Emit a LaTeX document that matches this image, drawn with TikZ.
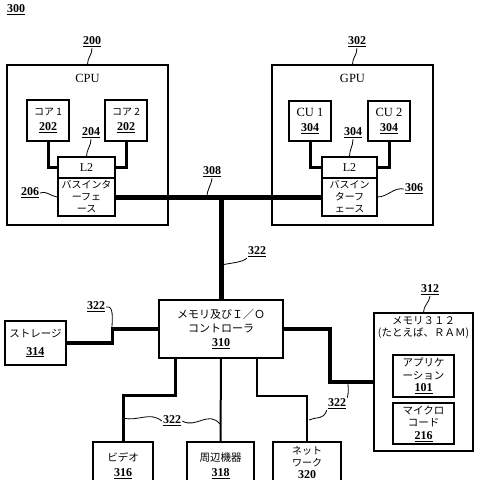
\documentclass[tikz,border=0pt]{standalone}
\usepackage{fontspec}
\setmainfont{Liberation Serif}
\newfontfamily\jp{Noto Sans CJK JP}
\usetikzlibrary{scopes}

\newcommand{\nb}[1]{{\rmfamily\bfseries\fontsize{12}{12}\selectfont\underline{#1}}}

\tikzset{
  box/.style={draw, line width=1.2pt, inner sep=0pt, align=center,
    font=\jp\fontsize{10}{13}\selectfont},
  lat/.style={font=\rmfamily\fontsize{12.5}{14}\selectfont, inner sep=0pt},
  num/.style={inner sep=1pt},
  lead/.style={line width=0.8pt},
}

\begin{document}
\begin{tikzpicture}[x=1pt,y=-1pt]

\useasboundingbox (0,0) rectangle (480,480);
\clip (0,0) rectangle (480,480);

\node[num] (n300) at (16,10) {\nb{300}};

%draw CPU
\node[box, minimum width=161pt, minimum height=160pt] (cpu) at (87.5,145) {};
\node[lat] (cputxt) at (87.5,78) {CPU};
\node[box, minimum width=42pt, minimum height=41pt, font=\jp\fontsize{10}{15}\selectfont] (core1) at (48,120.5) {コア 1\\\nb{202}};
\node[box, minimum width=42pt, minimum height=41pt, font=\jp\fontsize{10}{15}\selectfont] (core2) at (126,120.5) {コア 2\\\nb{202}};
\node[box, minimum width=57pt, minimum height=21pt, font=\rmfamily\fontsize{12}{13}\selectfont] (l2a) at (86.5,167.5) {L2};
\node[box, minimum width=57pt, minimum height=38pt, font=\jp\fontsize{10}{12}\selectfont] (bia) at (86.5,197) {バスインタ\\ーフェ\\ース};

%draw GPU
\node[box, minimum width=161pt, minimum height=160pt] (gpu) at (352.5,145) {};
\node[lat] (gputxt) at (352.5,78) {GPU};
\node[box, minimum width=42pt, minimum height=40pt, font=\rmfamily\fontsize{12.5}{15}\selectfont] (cu1) at (310,121) {CU 1\\\nb{304}};
\node[box, minimum width=42pt, minimum height=40pt, font=\rmfamily\fontsize{12.5}{15}\selectfont] (cu2) at (389,121) {CU 2\\\nb{304}};
\node[box, minimum width=55pt, minimum height=21pt, font=\rmfamily\fontsize{12}{13}\selectfont] (l2b) at (349.5,167.5) {L2};
\node[box, minimum width=55pt, minimum height=38pt, font=\jp\fontsize{10}{12}\selectfont] (bib) at (349.5,197) {バスイン\\ターフ\\ェース};

%draw controller, memory and devices
\node[box, minimum width=124pt, minimum height=58pt, font=\jp\fontsize{11}{14}\selectfont] (ctrl) at (221,329) {メモリ及びＩ／Ｏ\\コントローラ\\\nb{310}};
\node[box, minimum width=61pt, minimum height=44pt, font=\jp\fontsize{10.5}{18}\selectfont] (stor) at (35.5,343) {ストレージ\\\nb{314}};
\node[box, minimum width=99pt, minimum height=138pt] (mem) at (423.5,382) {};
\node[inner sep=0pt, align=center, font=\jp\fontsize{10.5}{12}\selectfont] (memtxt) at (423.5,328) {メモリ３１２\\(たとえば、ＲＡＭ)};
\node[box, minimum width=61pt, minimum height=42pt, font=\jp\fontsize{10.5}{12.5}\selectfont] (app) at (423.5,376) {アプリケ\\ーション\\\nb{101}};
\node[box, minimum width=61pt, minimum height=41pt, font=\jp\fontsize{10.5}{12.5}\selectfont] (micro) at (423.5,423.5) {マイクロ\\コード\\\nb{216}};
\node[box, minimum width=60pt, minimum height=48pt, font=\jp\fontsize{10.5}{15}\selectfont] (video) at (123,466) {ビデオ\\\nb{316}};
\node[box, minimum width=67pt, minimum height=48pt, font=\jp\fontsize{10.5}{15}\selectfont] (peri) at (220.5,466) {周辺機器\\\nb{318}};
\node[box, minimum width=68pt, minimum height=48pt] (net) at (307,466) {};
\node[inner sep=0pt, align=center, font=\jp\fontsize{10}{12}\selectfont] (nettxt) at (307,463.5) {ネット\\ワーク\\\nb{320}};

%draw links
{[line width=3pt]
  \draw (core1.south) |- (l2a.west);
  \draw (core2.south) |- (l2a.east);
  \draw (cu1.south) |- (l2b.west);
  \draw (cu2.south) |- (l2b.east);
}
{[line width=5pt]
  \draw (bia.east) -- (bib.west);
  \draw (ctrl.north) -- (ctrl.north |- bia.east);
}
\draw[line width=3.5pt] (stor.east) -- ++(46,0) |- (ctrl.west);
\draw[line width=4pt] (ctrl.east) -- ++(46,0) |- (mem.west);
\draw[line width=3pt] ([xshift=-46pt]ctrl.south) -- ++(0,37) -| (video.north);
{[line width=2pt]
  \draw (ctrl.south) -- (peri.north);
  \draw ([xshift=36pt]ctrl.south) -- ++(0,37) -| (net.north);
}

%reference numbers
\node[num] (n200) at (92,42) {\nb{200}};
\node[num] (n302) at (357,42) {\nb{302}};
\node[num] (n204) at (91,133) {\nb{204}};
\node[num] (n304) at (353,133) {\nb{304}};
\node[num] (n206) at (30,193) {\nb{206}};
\node[num] (n306) at (414,189) {\nb{306}};
\node[num] (n308) at (212,172) {\nb{308}};
\node[num] (n312) at (430,290) {\nb{312}};
\node[num] (n322a) at (257,252) {\nb{322}};
\node[num] (n322b) at (96,307) {\nb{322}};
\node[num] (n322c) at (172,421) {\nb{322}};
\node[num] (n322d) at (337,404) {\nb{322}};

\coordinate (b308) at (207,197);
\coordinate (b322a) at (221,265);
\coordinate (b322b) at (112,329);
\coordinate (b322c) at (123,418);
\coordinate (b322e) at (220,424);
\coordinate (b322d) at (348,382);
\coordinate (b322f) at (309,420);

{[lead]
  \draw (n200.south) .. controls +(0,7) and +(0,-7) .. (cpu.north);
  \draw (n302.south) .. controls +(0,7) and +(0,-7) .. (gpu.north);
  \draw (n204.south) .. controls +(0,7) and +(0,-7) .. (l2a.north);
  \draw (n304.south) .. controls +(0,7) and +(0,-7) .. (l2b.north);
  \draw (n206.east) .. controls +(8,-2) and +(-10,-2) .. (bia.west);
  \draw (n306.west) .. controls +(-10,-2) and +(10,0) .. (bib.east);
  \draw (n308.south) .. controls +(-1,8) and +(0,-8) .. (b308);
  \draw (n322a.south west) .. controls +(-4,4) and +(10,-2) .. (b322a);
  \draw (n322b.east) .. controls +(8,-2) and +(0,-10) .. (b322b);
  \draw (n322c.west) .. controls +(-12,-10) and +(14,4) .. (b322c);
  \draw (n322c.east) .. controls +(14,8) and +(-12,-14) .. (b322e);
  \draw (n322d.north east) .. controls +(2,-8) and +(0,8) .. (b322d);
  \draw (n322d.south west) .. controls +(-4,10) and +(10,-4) .. (b322f);
  \draw (n312.south) .. controls +(-1,7) and +(0,-7) .. (mem.north);
}

\end{tikzpicture}
\end{document}
